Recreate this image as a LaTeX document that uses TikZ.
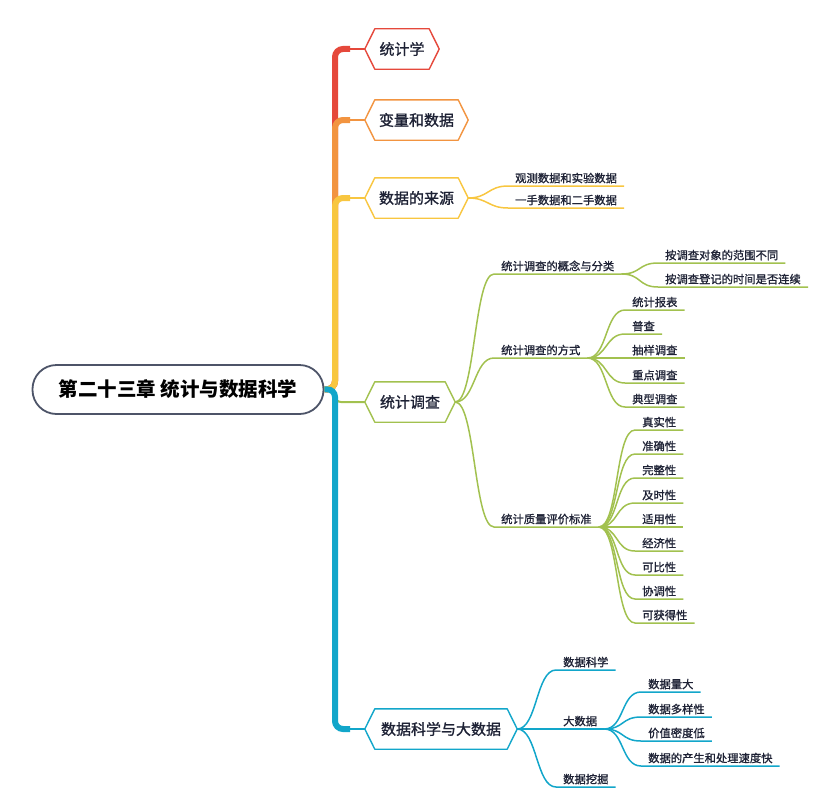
\documentclass[tikz,border=0pt]{standalone}
\usepackage{fontspec}
\newfontfamily\cjk{Noto Sans CJK SC}
\newfontfamily\cjkm{Noto Sans CJK SC}[FakeBold=1.2]
\usetikzlibrary{calc}
\definecolor{cred}{HTML}{E5483B}
\definecolor{corange}{HTML}{F29440}
\definecolor{cyellow}{HTML}{F8C640}
\definecolor{cgreen}{HTML}{A2C14F}
\definecolor{cblue}{HTML}{12A6CA}
\definecolor{croot}{HTML}{4D5468}
\definecolor{ctext}{HTML}{1E2235}
\newcommand\hexbox[5]{%
  \node[mainnode, minimum width=#3] (#1) at (#4) {#5};
  \draw[#2, line width=1.4pt, line join=round] (#1.west) -- ([xshift=10pt]#1.north west) -- ([xshift=-10pt]#1.north east) -- (#1.east) -- ([xshift=-10pt]#1.south east) -- ([xshift=10pt]#1.south west) -- cycle;}
\newcommand\twig[3]{\draw[#1, twigline] (#2) .. controls +(20,0) and +(-20,0) .. (#3.south west) -- (#3.south east);}
\begin{document}
\begin{tikzpicture}[x=1pt,y=-1pt,
  leaf/.style={font=\cjkm\fontsize{11.3}{13}\selectfont, text=ctext, inner xsep=7pt, inner ysep=2.5pt, anchor=south west},
  mainnode/.style={font=\cjkm\fontsize{15}{17}\selectfont, text=ctext, minimum height=40pt, inner sep=0pt},
  rootnode/.style={draw=croot, line width=1.8pt, rounded corners=24pt, minimum width=291pt, minimum height=49pt, font=\cjk\bfseries\fontsize{19.5}{21}\selectfont, text=black, fill=white},
  trunk/.style={line width=6pt, rounded corners=8pt},
  stub/.style={line width=2.5pt},
  twigline/.style={line width=1.5pt}]
\useasboundingbox (0,0) rectangle (829,792);

% root
\node[rootnode] (root) at (178,389.5) {第二十三章 统计与数据科学};

% main nodes
\hexbox{n1}{cred}{74pt}{402,49}{统计学}
\hexbox{n2}{corange}{103pt}{416.5,120}{变量和数据}
\hexbox{n3}{cyellow}{103pt}{416.5,198}{数据的来源}
\hexbox{n4}{cgreen}{90pt}{410,402}{统计调查}
\hexbox{n5}{cblue}{152pt}{441,729}{数据科学与大数据}

% trunk
\draw[cred, trunk] (root.east) -- (335,389) |- (350,49);
\draw[cred, stub] (345,49) -- (n1.west);
\draw[corange, trunk] (root.east) -- (335,389) |- (350,120);
\draw[corange, stub] (345,120) -- (n2.west);
\draw[cyellow, trunk] (root.east) -- (335,389) |- (350,198);
\draw[cyellow, stub] (345,198) -- (n3.west);
\draw[cgreen, stub, line width=2pt, rounded corners=6pt] (root.east) -- (335,389) |- (n4.west);
\draw[cblue, trunk] (root.east) -- (335,389) |- (350,729);
\draw[cblue, stub] (345,729) -- (n5.west);

% yellow leaves
\node[leaf] (y1) at (508,186) {观测数据和实验数据};
\node[leaf] (y2) at (508,208) {一手数据和二手数据};
\twig{cyellow}{n3.east}{y1}
\twig{cyellow}{n3.east}{y2}

% green
\node[leaf] (g1) at (494,274) {统计调查的概念与分类};
\node[leaf] (g2) at (494,358) {统计调查的方式};
\node[leaf] (g3) at (494,527) {统计质量评价标准};
\twig{cgreen}{n4.east}{g1}
\twig{cgreen}{n4.east}{g2}
\twig{cgreen}{n4.east}{g3}

\node[leaf] (g11) at (658,263) {按调查对象的范围不同};
\node[leaf] (g12) at (658,287) {按调查登记的时间是否连续};
\twig{cgreen}{g1.south east}{g11}
\twig{cgreen}{g1.south east}{g12}

\node[leaf] (g21) at (625,310) {统计报表};
\node[leaf] (g22) at (625,334) {普查};
\node[leaf] (g23) at (625,358) {抽样调查};
\node[leaf] (g24) at (625,383) {重点调查};
\node[leaf] (g25) at (625,407) {典型调查};
\foreach \c in {g21,g22,g23,g24,g25} {\twig{cgreen}{g2.south east}{\c}}

\node[leaf] (g31) at (635,430) {真实性};
\node[leaf] (g32) at (635,454) {准确性};
\node[leaf] (g33) at (635,478) {完整性};
\node[leaf] (g34) at (635,503) {及时性};
\node[leaf] (g35) at (635,527) {适用性};
\node[leaf] (g36) at (635,551) {经济性};
\node[leaf] (g37) at (635,575) {可比性};
\node[leaf] (g38) at (635,599) {协调性};
\node[leaf] (g39) at (635,623) {可获得性};
\foreach \c in {g31,g32,g33,g34,g35,g36,g37,g38,g39} {\twig{cgreen}{g3.south east}{\c}}

% blue
\node[leaf] (b1) at (556,670) {数据科学};
\node[leaf] (b2) at (556,729) {大数据};
\node[leaf] (b3) at (556,787) {数据挖掘};
\twig{cblue}{n5.east}{b1}
\twig{cblue}{n5.east}{b2}
\twig{cblue}{n5.east}{b3}

\node[leaf] (b21) at (641,692) {数据量大};
\node[leaf] (b22) at (641,717) {数据多样性};
\node[leaf] (b23) at (641,741) {价值密度低};
\node[leaf] (b24) at (641,766) {数据的产生和处理速度快};
\foreach \c in {b21,b22,b23,b24} {\twig{cblue}{b2.south east}{\c}}
\end{tikzpicture}
\end{document}
